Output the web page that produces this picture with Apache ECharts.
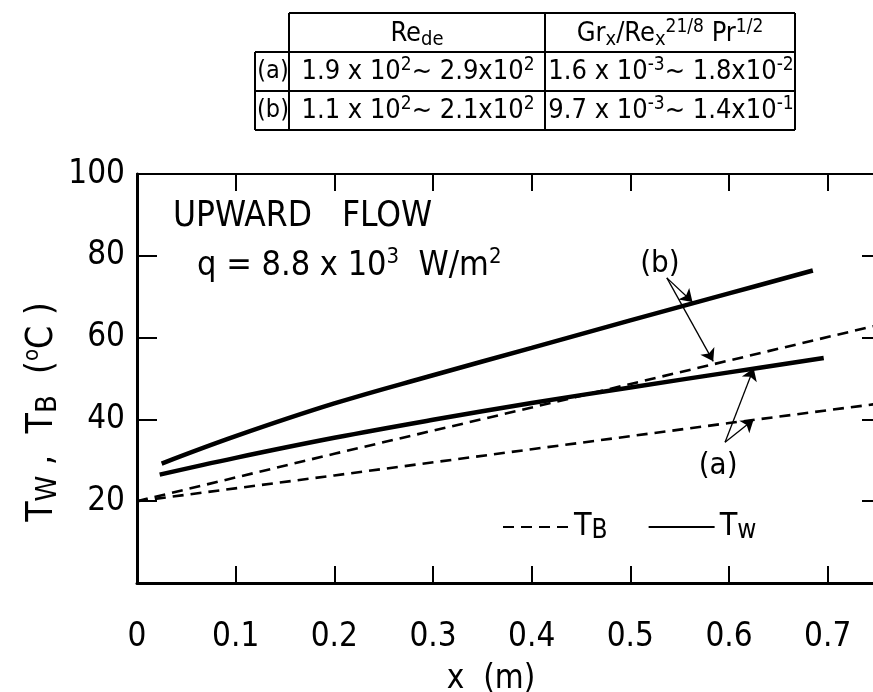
<!DOCTYPE html>
<html><head><meta charset="utf-8">
<script src="https://cdn.jsdelivr.net/npm/echarts@6/dist/echarts.min.js"></script>
<style>html,body{margin:0;padding:0;background:#fff}#c{width:873px;height:692px}</style>
</head><body><div id="c"></div>
<script>
const FONT = "'DejaVu Sans Condensed','Liberation Sans',sans-serif";

// x (m), T (deg C)
const tbB = [[0, 20], [0.2, 31.6], [0.4, 42.9], [0.6, 54.4], [0.75, 63.0]];
const tbA = [[0, 20], [0.2, 26.3], [0.4, 32.7], [0.6, 39.1], [0.75, 43.8]];
const twB = [[0.025, 29.2], [0.1, 35.9], [0.2, 43.9], [0.3, 50.8], [0.4, 57.5], [0.5, 64.2], [0.6, 70.8], [0.685, 76.4]];
const twA = [[0.023, 26.5], [0.1, 30.6], [0.2, 35.5], [0.3, 39.9], [0.4, 44.0], [0.5, 47.8], [0.6, 51.5], [0.696, 55.0]];

// annotation arrows (data coords): from label to curve
const arrowsB = [[[0.537, 74.6], [0.563, 68.7]], [[0.537, 74.6], [0.584, 54.2]]];
const arrowsA = [[[0.596, 34.4], [0.625, 52.5]], [[0.596, 34.4], [0.625, 40.0]]];
const caseLabelB = {text: '(b)', at: [0.53, 78.0]};
const caseLabelA = {text: '(a)', at: [0.589, 28.6]};

const xTickStep = 0.1;
const yTickStep = 20;

// table text
const rowLabels = ['(a)', '(b)'];
const headerCells = ['{n|Re}{sub|de}', '{n|Gr}{sub|x}{n|/Re}{sub|x}{sup|21/8}{n| Pr}{sup|1/2}'];
const rowCells = [
  ['{n|1.9 x 10}{sup|2}{n|~ 2.9x10}{sup|2}', '{n|1.6 x 10}{sup|-3}{n|~ 1.8x10}{sup|-2}'],
  ['{n|1.1 x 10}{sup|2}{n|~ 2.1x10}{sup|2}', '{n|9.7 x 10}{sup|-3}{n|~ 1.4x10}{sup|-1}']
];

const rich = {
  n: {fontSize: 27, lineHeight: 32, fontFamily: FONT, color: '#000'},
  sup: {fontSize: 19, lineHeight: 19, verticalAlign: 'top', fontFamily: FONT, color: '#000'},
  sub: {fontSize: 20, lineHeight: 20, verticalAlign: 'bottom', fontFamily: FONT, color: '#000'}
};

const chart = echarts.init(document.getElementById('c'));

// table geometry
const tX = [255, 289, 545, 795];
const tY = [13, 52, 91, 130];
const tableGraphics = [];
function hline(x1, x2, y) { tableGraphics.push({type: 'line', shape: {x1, y1: y, x2, y2: y}, style: {stroke: '#000', lineWidth: 2}}); }
function vline(x, y1, y2) { tableGraphics.push({type: 'line', shape: {x1: x, y1, x2: x, y2}, style: {stroke: '#000', lineWidth: 2}}); }
hline(tX[1], tX[3], tY[0]);
hline(tX[0], tX[3], tY[1]);
hline(tX[0], tX[3], tY[2]);
hline(tX[0], tX[3], tY[3]);
vline(tX[0], tY[1], tY[3]);
vline(tX[1], tY[0], tY[3]);
vline(tX[2], tY[0], tY[3]);
vline(tX[3], tY[0], tY[3]);
function cellText(txt, cx, cy, r) {
  tableGraphics.push({type: 'text', x: cx, y: cy, style: {text: txt, rich: r || rich, align: 'center', verticalAlign: 'middle'}});
}
const labelRich = {n: {fontSize: 25, lineHeight: 32, fontFamily: FONT, color: '#000'}};
headerCells.forEach((t, i) => cellText(t, (tX[i + 1] + tX[i + 2]) / 2, (tY[0] + tY[1]) / 2 + 1));
rowLabels.forEach((t, r) => {
  cellText('{n|' + t + '}', (tX[0] + tX[1]) / 2 + 1, (tY[r + 1] + tY[r + 2]) / 2, labelRich);
  rowCells[r].forEach((c, i) => cellText(c, (tX[i + 1] + tX[i + 2]) / 2 + 1, (tY[r + 1] + tY[r + 2]) / 2));
});

const bigRich = {
  n: {fontSize: 34, lineHeight: 40, fontFamily: FONT, color: '#000'},
  sup: {fontSize: 22, lineHeight: 22, verticalAlign: 'top', fontFamily: FONT, color: '#000'},
  sub: {fontSize: 24, lineHeight: 24, verticalAlign: 'bottom', fontFamily: FONT, color: '#000'}
};
const titleRich = {
  n: {fontSize: 37, lineHeight: 42, fontFamily: FONT, color: '#000'},
  s: {fontSize: 29, lineHeight: 34, verticalAlign: 'bottom', fontFamily: FONT, color: '#000'},
  d: {fontSize: 22, lineHeight: 22, verticalAlign: 'top', fontFamily: FONT, color: '#000'}
};

const option = {
  backgroundColor: '#fff',
  animation: false,
  grid: {left: 137, top: 174, width: 740, height: 409, containLabel: false, outerBoundsMode: 'none'},
  xAxis: [
    {
      type: 'value', position: 'bottom', min: 0, max: 0.75, interval: xTickStep,
      splitLine: {show: false},
      axisLine: {show: true, onZero: false, lineStyle: {color: '#000', width: 3}},
      axisTick: {show: true, inside: true, length: 17, lineStyle: {color: '#000', width: 2}},
      axisLabel: {
        fontSize: 33, fontFamily: FONT, color: '#000', margin: 38, showMaxLabel: false,
        formatter: v => (Math.abs(v * 10 - Math.round(v * 10)) < 1e-6 ? (Math.round(v * 10) / 10).toString() : '')
      },
      name: 'x  (m)', nameLocation: 'middle', nameGap: 80,
      nameTextStyle: {fontSize: 33, fontFamily: FONT, color: '#000', padding: [0, 32, 0, 0]}
    },
    {
      type: 'value', position: 'top', min: 0, max: 0.75, interval: xTickStep,
      splitLine: {show: false},
      axisLine: {show: true, onZero: false, lineStyle: {color: '#000', width: 2}},
      axisTick: {show: true, inside: true, length: 17, lineStyle: {color: '#000', width: 2}},
      axisLabel: {show: false}
    }
  ],
  yAxis: [
    {
      type: 'value', position: 'left', min: 0, max: 100, interval: yTickStep,
      splitLine: {show: false},
      axisLine: {show: true, onZero: false, lineStyle: {color: '#000', width: 3}},
      axisTick: {show: true, inside: true, length: 20, lineStyle: {color: '#000', width: 2}},
      axisLabel: {fontSize: 33, fontFamily: FONT, color: '#000', margin: 12, formatter: v => (v === 0 ? '' : String(v))}
    },
    {
      type: 'value', position: 'right', min: 0, max: 100, interval: yTickStep,
      splitLine: {show: false},
      axisLine: {show: false, onZero: false},
      axisTick: {show: true, inside: true, length: 15, lineStyle: {color: '#000', width: 2}},
      axisLabel: {show: false}
    }
  ],
  legend: {
    data: ['TB', 'Tw'], left: 497, top: 506, itemWidth: 66, itemHeight: 3, itemGap: 40,
    itemStyle: {opacity: 0},
    formatter: name => name === 'TB' ? '{t|T}{s|B}' : '{t|T}{s|w}',
    textStyle: {
      color: '#000',
      rich: {
        t: {fontSize: 32, fontFamily: FONT, color: '#000', lineHeight: 34},
        s: {fontSize: 26, fontFamily: FONT, color: '#000', lineHeight: 30, verticalAlign: 'bottom'}
      }
    }
  },
  graphic: tableGraphics.concat([
    {type: 'text', left: 173, top: 199, style: {text: 'UPWARD   FLOW', font: '35px ' + FONT, fill: '#000'}},
    {type: 'text', x: 197, y: 266, style: {text: '{n|q = 8.8 x 10}{sup|3}{n|  W/m}{sup|2}', rich: bigRich, align: 'left', verticalAlign: 'middle'}},
    {type: 'text', x: 42, y: 412, rotation: Math.PI / 2, style: {text: '{n|T}{s|W}{n| ,  T}{s|B}{n|  (}{d|o}{n|C )}', rich: titleRich, align: 'center', verticalAlign: 'middle'}}
  ]),
  series: [
    {name: 'TB', type: 'line', data: tbB, symbol: 'none', lineStyle: {color: '#000', width: 2.6, type: [11, 7]}, itemStyle: {color: '#000'}},
    {name: 'TB', type: 'line', data: tbA, symbol: 'none', lineStyle: {color: '#000', width: 2.6, type: [11, 7]}, itemStyle: {color: '#000'}},
    {
      name: 'Tw', type: 'line', data: twB, symbol: 'none', smooth: 0.4,
      lineStyle: {color: '#000', width: 4.5}, itemStyle: {color: '#000'},
      markLine: {
        silent: true, symbol: ['none', 'arrow'], symbolSize: 12,
        lineStyle: {color: '#000', width: 1.3, type: 'solid'}, label: {show: false},
        data: arrowsB.map(a => [{coord: a[0]}, {coord: a[1]}])
      },
      markPoint: {
        silent: true, symbol: 'circle', symbolSize: 1, itemStyle: {color: 'rgba(0,0,0,0)'},
        label: {show: true, position: 'inside', color: '#000', fontSize: 31, fontFamily: FONT, formatter: p => p.name},
        data: [{name: caseLabelB.text, coord: caseLabelB.at}]
      }
    },
    {
      name: 'Tw', type: 'line', data: twA, symbol: 'none', smooth: 0.4,
      lineStyle: {color: '#000', width: 4.5}, itemStyle: {color: '#000'},
      markLine: {
        silent: true, symbol: ['none', 'arrow'], symbolSize: 12,
        lineStyle: {color: '#000', width: 1.3, type: 'solid'}, label: {show: false},
        data: arrowsA.map(a => [{coord: a[0]}, {coord: a[1]}])
      },
      markPoint: {
        silent: true, symbol: 'circle', symbolSize: 1, itemStyle: {color: 'rgba(0,0,0,0)'},
        label: {show: true, position: 'inside', color: '#000', fontSize: 31, fontFamily: FONT, formatter: p => p.name},
        data: [{name: caseLabelA.text, coord: caseLabelA.at}]
      }
    }
  ]
};
chart.setOption(option);
</script>
</body></html>
